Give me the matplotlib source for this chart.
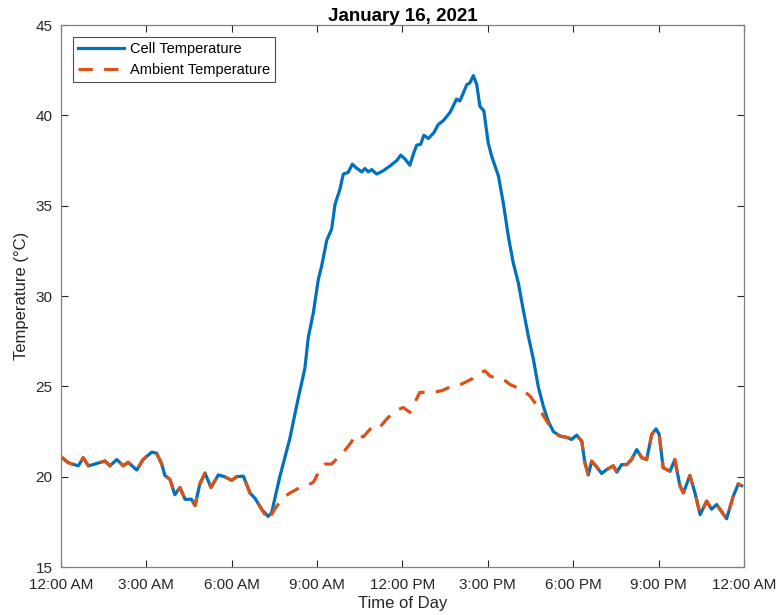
import numpy as np
import matplotlib
matplotlib.use("Agg")
import matplotlib.pyplot as plt

plt.rcParams['font.family'] = ['Liberation Sans', 'DejaVu Sans']

# night (shared by both series), hours after midnight / deg C
night_t = [0.0, 0.26, 0.61, 0.78, 0.96, 1.19, 1.55, 1.72, 1.96, 2.19, 2.36, 2.66,
           2.89, 3.19, 3.36, 3.54, 3.65, 3.83, 4.0, 4.18, 4.36, 4.59, 4.71, 4.88,
           5.06, 5.27, 5.53, 5.76, 6.0, 6.17, 6.41, 6.64, 6.82, 7.05]
night_v = [21.1, 20.77, 20.6, 21.05, 20.6, 20.7, 20.87, 20.6, 20.95, 20.6, 20.8, 20.37,
           20.96, 21.36, 21.3, 20.7, 20.07, 19.85, 19.0, 19.4, 18.75, 18.75, 18.4, 19.6,
           20.2, 19.4, 20.1, 19.99, 19.8, 20.0, 20.03, 19.1, 18.8, 18.2]

# daytime cell temperature
cell_day_t = [7.28, 7.4, 7.69, 8.04, 8.29, 8.57, 8.69, 8.87, 9.04, 9.16, 9.34, 9.51,
              9.63, 9.8, 9.92, 10.09, 10.24, 10.37, 10.57, 10.68, 10.8, 10.92, 11.09,
              11.32, 11.56, 11.8, 11.94, 12.09, 12.26, 12.38, 12.5, 12.64, 12.75, 12.91,
              13.11, 13.26, 13.43, 13.67, 13.9, 14.02, 14.26, 14.37, 14.49, 14.61, 14.72,
              14.86, 15.01, 15.13, 15.37, 15.54, 15.72, 15.89, 16.07, 16.24, 16.42, 16.6,
              16.77, 16.95, 17.12, 17.3, 17.53]
cell_day_v = [17.8, 18.0, 20.0, 22.1, 24.0, 26.0, 27.7, 29.1, 30.9, 31.67, 33.1, 33.7,
              35.08, 35.9, 36.75, 36.84, 37.3, 37.1, 36.87, 37.06, 36.87, 37.0, 36.75,
              36.93, 37.2, 37.5, 37.8, 37.58, 37.24, 37.85, 38.35, 38.4, 38.9, 38.72,
              39.06, 39.5, 39.7, 40.16, 40.9, 40.8, 41.7, 41.8, 42.2, 41.7, 40.5,
              40.25, 38.5, 37.76, 36.65, 35.18, 33.3, 31.85, 30.74, 29.27, 27.8, 26.5,
              25.0, 23.9, 23.08, 22.5, 22.25]

# daytime ambient temperature
amb_day_t = [7.28, 7.55, 7.81, 8.05, 8.28, 8.4, 8.65, 8.87, 9.04, 9.28, 9.51, 9.7,
             9.92, 10.15, 10.39, 10.62, 10.92, 11.15, 11.45, 11.74, 12.03, 12.26, 12.61,
             13.08, 13.38, 13.78, 14.08, 14.43, 14.61, 14.9, 15.07, 15.3, 15.54, 15.78,
             16.0, 16.24, 16.48, 16.65, 16.83, 17.0, 17.18, 17.35, 17.53]
amb_day_v = [17.6, 18.3, 18.85, 19.1, 19.3, 19.4, 19.5, 19.7, 20.2, 20.7, 20.7, 21.0,
             21.35, 21.8, 22.35, 22.2, 22.73, 22.64, 23.2, 23.65, 23.83, 23.56, 24.67,
             24.67, 24.76, 25.04, 25.13, 25.4, 25.68, 25.86, 25.58, 25.45, 25.4, 25.1,
             24.95, 24.8, 24.46, 24.1, 23.7, 23.25, 22.8, 22.45, 22.25]

# evening (shared by both series)
eve_t = [17.82, 17.94, 18.12, 18.3, 18.41, 18.53, 18.65, 18.82, 19.0, 19.18, 19.41,
         19.53, 19.7, 19.88, 20.05, 20.23, 20.41, 20.58, 20.76, 20.91, 21.02, 21.16,
         21.4, 21.57, 21.75, 21.87, 22.1, 22.28, 22.46, 22.69, 22.86, 23.04, 23.39,
         23.62, 23.8, 23.92]
eve_v = [22.16, 22.06, 22.3, 21.96, 20.77, 20.1, 20.86, 20.55, 20.18, 20.4, 20.6,
         20.25, 20.67, 20.67, 20.95, 21.5, 21.05, 20.95, 22.34, 22.65, 22.34, 20.5,
         20.3, 20.95, 19.5, 19.1, 20.07, 19.1, 17.9, 18.65, 18.2, 18.46, 17.67,
         18.9, 19.6, 19.5]

tick_hours = [0, 3, 6, 9, 12, 15, 18, 21, 24]
tick_labels = ['12:00 AM', '3:00 AM', '6:00 AM', '9:00 AM', '12:00 PM',
               '3:00 PM', '6:00 PM', '9:00 PM', '12:00 AM']

cell_t = night_t + cell_day_t + eve_t
cell_v = night_v + cell_day_v + eve_v
amb_t = night_t + amb_day_t + eve_t
amb_v = night_v + amb_day_v + eve_v

fig = plt.figure(figsize=(7.8, 6.15), dpi=100)
ax = fig.add_axes([0.0782, 0.078, 0.8756, 0.8813])

ax.plot(cell_t, cell_v, color='#0072BD', lw=2.3, label='Cell Temperature')
ax.plot(amb_t, amb_v, color='#D95319', lw=2.3, ls=(0, (4.5, 3.5)),
        label='Ambient Temperature')

ax.set_xlim(0, 24)
ax.set_ylim(15, 45)
ax.set_xticks(tick_hours)
ax.set_xticklabels(tick_labels)
ax.set_yticks(np.arange(15, 46, 5))
ax.tick_params(direction='in', top=True, right=True, labelsize=11,
               colors='0.15', length=5, width=0.8)
ax.tick_params(axis='x', pad=8)
ax.tick_params(axis='y', pad=6)
for s in ax.spines.values():
    s.set_color('0.5')
    s.set_linewidth(0.9)

ax.set_xlabel('Time of Day', fontsize=12, color='0.15', labelpad=3)
ax.set_ylabel('Temperature (°C)', fontsize=12, color='0.15', labelpad=5)
ax.set_title('January 16, 2021', fontsize=13.5, fontweight='bold', pad=3)

leg = ax.legend(loc='upper left', fontsize=10.5, handlelength=3.2,
                fancybox=False, framealpha=1, borderaxespad=0.8,
                borderpad=0.35, labelspacing=0.5, handletextpad=0.35)
leg.get_frame().set_edgecolor('0.3')
leg.get_frame().set_linewidth(0.8)

fig.savefig('out.png', dpi=100)
